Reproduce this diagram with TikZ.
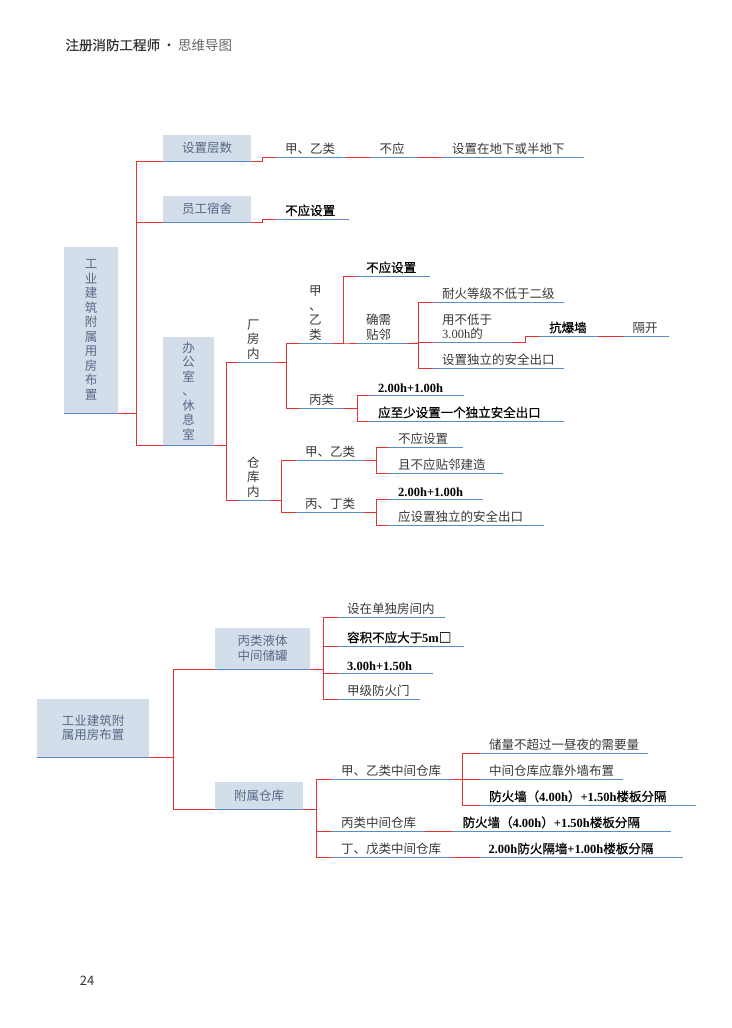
\documentclass[tikz,border=0pt]{standalone}
\usepackage{fontspec}
\setmainfont{Noto Sans CJK SC}
\newfontfamily\cjkbold{Noto Sans CJK SC}[FakeBold=0.6]
\newfontfamily\latin{Liberation Serif}
\usepackage{tikz}
\usetikzlibrary{positioning}

\definecolor{boxfill}{RGB}{211,222,234}
\definecolor{boxtext}{RGB}{88,104,134}
\definecolor{linered}{RGB}{232,50,50}
\definecolor{lineblue}{RGB}{88,140,204}
\definecolor{leaftext}{RGB}{55,55,55}

\newcommand{\lat}[1]{{\latin\bfseries #1}}

\begin{document}
\begin{tikzpicture}[x=1pt, y=-1pt,
    every node/.style={font=\fontsize{12.5}{14.5}\selectfont},
    uline/.style={append after command={\pgfextra{\let\ulnode\tikzlastnode}
        (\ulnode.south west) edge[draw=lineblue, line width=0.9pt] (\ulnode.south east)}},
    topic/.style={fill=boxfill, text=boxtext, anchor=south west, inner sep=0pt, align=center, uline},
    leaf/.style={anchor=south west, inner xsep=9pt, inner ysep=2.5pt, text width=#1, align=left, text=leaftext, uline},
    strong/.style={text=black, font=\fontsize{12.5}{14.5}\cjkbold},
    fork/.style={to path={-- ++(#1,0) |- (\tikztotarget)}},
    link/.style={draw=linered, line width=0.9pt}]

  \useasboundingbox (0,0) rectangle (731,1028);

  % header and page number
  \node [anchor=west, text=black!80, font=\fontsize{13.5}{16}\selectfont] (title) at (62,45)
  {{\cjkbold 注册消防工程师}\,·\,{\color{black!60}思维导图}};
  \node [text=black!80, font=\fontsize{13}{15}\selectfont] (pageno) at (87,981) {24};

  % nodes (upper map)
  \node [topic, minimum width=54, minimum height=166] (root) at (64,413)
  {工\\业\\建\\筑\\附\\属\\用\\房\\布\\置};
  \node [topic, minimum width=88, minimum height=26] (floors) at (163,161) {设置层数};
  \node [topic, minimum width=88, minimum height=26] (dorm) at (163,222) {员工宿舍};
  \node [topic, minimum width=51, minimum height=108] (office) at (163,445)
  {办\\公\\室\\、\\休\\息\\室};

  \node [leaf=52] (flJY) at (276,157) {甲、乙类};
  \node [right=24pt of flJY.south east, leaf=29] (flNot) {不应};
  \node [right=25pt of flNot.south east, leaf=123] (flUnder) {设置在地下或半地下};
  \node [leaf=55, strong] (dormNot) at (276,219) {不应设置};

  \node [leaf=19] (plant) at (238,362) {厂\\房\\内};
  \node [leaf=14] (store) at (238,500) {仓\\库\\内};

  \node [leaf=15] (plJY) at (300,343) {甲\\、\\乙\\类};
  \node [leaf=25] (plB) at (300,408) {丙类};
  \node [leaf=55, strong] (plJYNot) at (357,276) {不应设置};
  \node [leaf=32] (plJYAdj) at (357,343) {确需\\贴邻};
  \node [leaf=113] (adjFire) at (433,302) {耐火等级不低于二级};
  \node [leaf=62] (adjWall) at (433,342) {用不低于\\{\latin 3.00h}的};
  \node [leaf=113] (adjExit) at (433,368) {设置独立的安全出口};
  \node [leaf=40, strong] (blast) at (540,336) {抗爆墙};
  \node [right=25pt of blast.south east, leaf=27] (apart) {隔开};
  \node [leaf=77, strong] (plBWall) at (369,395) {\lat{2.00h+1.00h}};
  \node [leaf=177, strong] (plBExit) at (369,421) {应至少设置一个独立安全出口};

  \node [leaf=50] (stJY) at (296,460) {甲、乙类};
  \node [leaf=50] (stBD) at (296,512) {丙、丁类};
  \node [leaf=56] (stJYNot) at (389,447) {不应设置};
  \node [leaf=96] (stJYAdj) at (389,473) {且不应贴邻建造};
  \node [leaf=76, strong] (stBDWall) at (389,499) {\lat{2.00h+1.00h}};
  \node [leaf=137] (stBDExit) at (389,525) {应设置独立的安全出口};

  % nodes (lower map)
  \node [topic, minimum width=112, minimum height=58] (root2) at (37,757)
  {工业建筑附\\属用房布置};
  \node [topic, minimum width=95, minimum height=41] (tank) at (215,669) {丙类液体\\中间储罐};
  \node [topic, minimum width=88, minimum height=27] (depot) at (215,809) {附属仓库};

  \node [leaf=89] (tankRoom) at (338,617) {设在单独房间内};
  \node [leaf=108, strong] (tankVol) at (338,646) {容积不应大于\lat{5m}□};
  \node [leaf=77, strong] (tankWall) at (338,673) {\lat{3.00h+1.50h}};
  \node [leaf=64] (tankDoor) at (338,699) {甲级防火门};

  \node [leaf=101] (dpJY) at (332,779) {甲、乙类中间仓库};
  \node [leaf=75] (dpB) at (332,831) {丙类中间仓库};
  \node [leaf=101] (dpDW) at (332,857) {丁、戊类中间仓库};
  \node [leaf=150] (jyQty) at (480,753) {储量不超过一昼夜的需要量};
  \node [leaf=125] (jyOuter) at (480,779) {中间仓库应靠外墙布置};
  \node [leaf=198, strong] (jyWall) at (480,805) {防火墙（\lat{4.00h}）\lat{+1.50h}楼板分隔};
  \node [right=28pt of dpB.south east, leaf=199, strong] (bWall)
  {防火墙（\lat{4.00h}）\lat{+1.50h}楼板分隔};
  \node [right=28pt of dpDW.south east, leaf=185, strong] (dwWall)
  {\lat{2.00h}防火隔墙\lat{+1.00h}楼板分隔};

  % edges (upper map)
  \draw [link] (root.south east) to [fork=18] (floors.south west);
  \draw [link] (root.south east) to [fork=18] (dorm.south west);
  \draw [link] (root.south east) to [fork=18] (office.south west);
  \draw [link] (floors.south east) to [fork=11] (flJY.south west);
  \draw [link] (flJY.south east) -- (flNot.south west);
  \draw [link] (flNot.south east) -- (flUnder.south west);
  \draw [link] (dorm.south east) to [fork=11] (dormNot.south west);
  \draw [link] (office.south east) to [fork=12] (plant.south west);
  \draw [link] (office.south east) to [fork=12] (store.south west);
  \draw [link] (plant.south east) to [fork=11] (plJY.south west);
  \draw [link] (plant.south east) to [fork=11] (plB.south west);
  \draw [link] (plJY.south east) to [fork=10] (plJYNot.south west);
  \draw [link] (plJY.south east) to [fork=10] (plJYAdj.south west);
  \draw [link] (plJYAdj.south east) to [fork=11] (adjFire.south west);
  \draw [link] (plJYAdj.south east) to [fork=11] (adjWall.south west);
  \draw [link] (plJYAdj.south east) to [fork=11] (adjExit.south west);
  \draw [link] (adjWall.south east) to [fork=12] (blast.south west);
  \draw [link] (blast.south east) -- (apart.south west);
  \draw [link] (plB.south east) to [fork=14] (plBWall.south west);
  \draw [link] (plB.south east) to [fork=14] (plBExit.south west);
  \draw [link] (store.south east) to [fork=11] (stJY.south west);
  \draw [link] (store.south east) to [fork=11] (stBD.south west);
  \draw [link] (stJY.south east) to [fork=12] (stJYNot.south west);
  \draw [link] (stJY.south east) to [fork=12] (stJYAdj.south west);
  \draw [link] (stBD.south east) to [fork=12] (stBDWall.south west);
  \draw [link] (stBD.south east) to [fork=12] (stBDExit.south west);

  % edges (lower map)
  \draw [link] (root2.south east) to [fork=24] (tank.south west);
  \draw [link] (root2.south east) to [fork=24] (depot.south west);
  \draw [link] (tank.south east) to [fork=13] (tankRoom.south west);
  \draw [link] (tank.south east) to [fork=13] (tankVol.south west);
  \draw [link] (tank.south east) to [fork=13] (tankWall.south west);
  \draw [link] (tank.south east) to [fork=13] (tankDoor.south west);
  \draw [link] (depot.south east) to [fork=13] (dpJY.south west);
  \draw [link] (depot.south east) to [fork=13] (dpB.south west);
  \draw [link] (depot.south east) to [fork=13] (dpDW.south west);
  \draw [link] (dpJY.south east) to [fork=11] (jyQty.south west);
  \draw [link] (dpJY.south east) to [fork=11] (jyOuter.south west);
  \draw [link] (dpJY.south east) to [fork=11] (jyWall.south west);
  \draw [link] (dpB.south east) -- (bWall.south west);
  \draw [link] (dpDW.south east) -- (dwWall.south west);
\end{tikzpicture}
\end{document}
